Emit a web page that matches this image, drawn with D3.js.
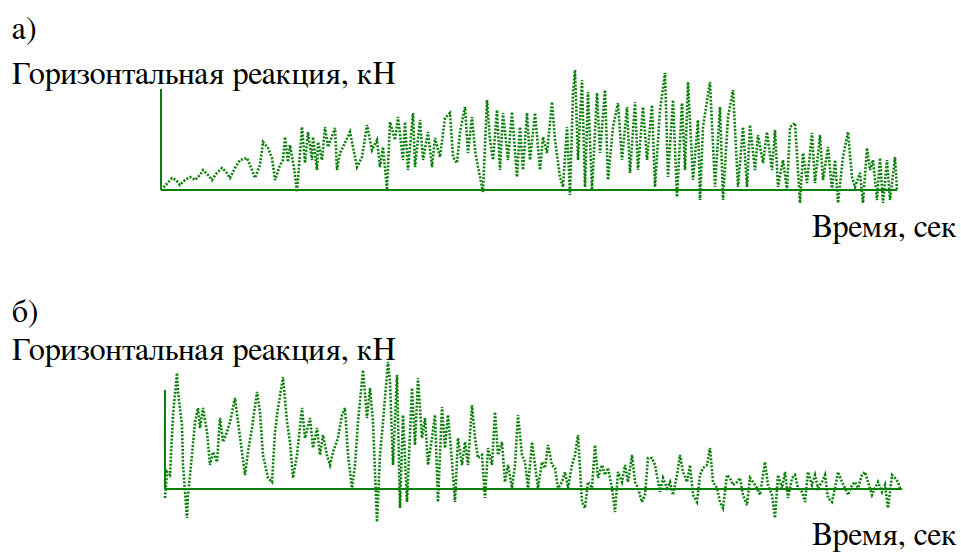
<!DOCTYPE html>
<html>
<head>
<meta charset="utf-8">
<script src="https://d3js.org/d3.v7.min.js"></script>
</head>
<body style="margin:0">
<script>

// labels
var panelLabels = ["а)", "б)"];
var yTitle = "Горизонтальная реакция, кН";
var xTitle = "Время, сек";

// panel a) : time, sec / horizontal reaction, kN
var timeA = [0,0.04,0.11,0.15,0.19,0.24,0.29,0.34,0.39,0.42,0.47,0.51,0.55,0.61,0.65,0.69,0.74,0.79,0.86,0.91,
  0.94,0.99,1.02,1.07,1.11,1.14,1.19,1.22,1.24,1.27,1.29,1.33,1.36,1.41,1.44,1.47,1.51,1.52,1.56,1.57,
  1.61,1.64,1.67,1.74,1.76,1.79,1.82,1.89,1.92,1.96,2.01,2.06,2.11,2.16,2.19,2.22,2.26,2.29,2.34,2.37,
  2.42,2.44,2.47,2.52,2.54,2.59,2.62,2.67,2.71,2.74,2.79,2.84,2.89,2.92,2.96,2.99,3.04,3.07,3.11,3.14,
  3.17,3.22,3.26,3.29,3.32,3.36,3.39,3.42,3.47,3.51,3.56,3.59,3.62,3.66,3.69,3.74,3.79,3.82,3.86,3.91,
  3.94,3.99,4.02,4.06,4.09,4.12,4.14,4.17,4.21,4.24,4.27,4.31,4.36,4.39,4.44,4.47,4.52,4.57,4.61,4.66,
  4.69,4.74,4.77,4.82,4.86,4.91,4.94,4.99,5.04,5.07,5.12,5.16,5.21,5.24,5.27,5.32,5.37,5.39,5.42,5.49,
  5.54,5.59,5.62,5.67,5.72,5.77,5.82,5.86,5.89,5.94,5.97,6.02,6.06,6.11,6.14,6.17,6.22,6.26,6.29,6.34,
  6.39,6.42,6.46,6.51,6.54,6.59,6.62,6.67,6.71,6.74,6.77,6.82,6.87,6.91,6.94,6.99,7.02,7.06,7.09,7.12,
  7.16,7.19,7.22,7.26,7.29,7.34,7.36];
var forceA = [0,4,12,10,5,10,13,10,15,20,15,10,16,22,18,12,22,30,32,20,
  12,25,48,42,32,10,25,30,53,28,45,22,-2,63,27,58,30,53,20,48,
  30,63,43,62,20,37,43,58,43,23,33,65,40,50,23,43,0,68,50,73,
  30,68,20,77,23,70,30,58,23,52,33,72,77,33,27,58,83,37,73,40,
  23,-2,90,50,30,80,20,77,30,78,13,63,20,77,30,77,20,53,37,88,
  50,13,3,63,-5,97,120,30,110,3,98,0,97,37,100,10,63,87,30,83,
  17,88,20,83,30,85,3,80,117,13,90,-7,87,20,108,10,70,-10,63,108,
  3,83,-10,73,100,3,63,3,65,20,55,27,58,20,60,3,30,0,63,67,
  -13,37,7,57,7,55,10,43,0,30,-13,33,58,13,3,17,-13,42,20,30,
  -10,32,-13,30,-10,33,0];

// panel б) : time, sec / horizontal reaction, kN
var timeB = [0,0.02,0.05,0.08,0.12,0.13,0.17,0.18,0.22,0.23,0.27,0.30,0.33,0.35,0.38,0.42,0.45,0.48,0.52,0.55,
  0.58,0.62,0.65,0.70,0.73,0.77,0.80,0.83,0.87,0.92,0.95,0.98,1.03,1.07,1.10,1.13,1.18,1.22,1.25,1.28,
  1.32,1.37,1.40,1.45,1.48,1.52,1.55,1.58,1.62,1.65,1.68,1.73,1.77,1.80,1.83,1.87,1.90,1.93,1.98,2.02,
  2.05,2.08,2.12,2.15,2.18,2.23,2.25,2.28,2.32,2.35,2.38,2.42,2.47,2.50,2.53,2.57,2.60,2.63,2.67,2.70,
  2.73,2.77,2.80,2.83,2.87,2.90,2.93,2.97,3.00,3.03,3.07,3.10,3.13,3.17,3.20,3.23,3.27,3.30,3.33,3.37,
  3.40,3.43,3.47,3.50,3.53,3.57,3.60,3.63,3.67,3.70,3.73,3.77,3.80,3.83,3.87,3.90,3.93,3.97,4.00,4.03,
  4.07,4.10,4.13,4.17,4.20,4.23,4.27,4.30,4.33,4.37,4.40,4.43,4.47,4.50,4.53,4.57,4.60,4.63,4.67,4.70,
  4.73,4.77,4.80,4.83,4.87,4.90,4.95,4.98,5.02,5.05,5.08,5.12,5.15,5.18,5.22,5.25,5.28,5.32,5.35,5.38,
  5.42,5.45,5.48,5.52,5.55,5.58,5.62,5.65,5.68,5.72,5.75,5.78,5.82,5.85,5.88,5.92,5.95,6.00,6.03,6.07,
  6.10,6.13,6.17,6.20,6.23,6.27,6.30,6.33,6.37,6.40,6.43,6.47,6.50,6.53,6.57,6.60,6.63,6.67,6.70,6.73,
  6.77,6.80,6.83,6.87,6.90,6.93,6.97,7.00,7.03,7.07,7.10,7.13,7.17,7.20,7.23,7.27,7.30,7.33,7.35];
var forceB = [-9,17,14,74,116,97,64,24,-29,-6,34,67,81,61,81,57,24,37,27,71,
  47,57,67,91,67,37,14,37,61,97,77,34,11,7,57,81,112,67,47,11,
  34,81,51,71,41,61,34,54,34,24,37,51,74,81,34,1,24,67,119,71,
  101,67,-33,34,67,127,107,24,114,-19,74,-13,101,44,111,51,71,24,51,74,
  -13,82,41,74,27,-13,51,24,47,24,84,51,31,34,-9,41,24,77,34,47,
  7,24,1,24,74,34,27,1,47,24,1,27,21,44,24,21,1,7,17,1,
  24,34,54,-13,-19,7,1,44,11,24,14,21,1,-23,17,7,24,7,34,7,
  1,-13,-6,31,31,24,-3,11,1,7,-6,14,34,17,7,24,-6,-13,14,21,
  24,41,7,1,-13,-19,14,11,4,7,11,-6,-16,11,7,1,-6,27,4,-6,
  -29,14,1,17,-9,11,14,1,-3,-13,17,4,14,1,7,14,-9,-13,1,17,
  7,1,-6,4,7,1,14,17,7,-6,1,7,-3,4,-19,14,11,7,1];

var green = "#0a800a";
var font = "FreeSerif";

var svg = d3.select("body")
  .append("svg")
    .attr("width", 961)
    .attr("height", 552);

// one panel = its own scales, two axis lines, the trace and the texts
var panels = [
  {label: panelLabels[0], time: timeA, force: forceA,
   xd: [0, 7.36], xr: [161, 897], yd: [0, 101], yr: [190, 89],
   labelY: 39, titleY: 84, xTitleY: 237},
  {label: panelLabels[1], time: timeB, force: forceB,
   xd: [0, 7.37], xr: [165, 902], yd: [0, 99], yr: [489, 390],
   labelY: 322, titleY: 360, xTitleY: 545}
];

panels.forEach(function(p) {
  var x = d3.scaleLinear().domain(p.xd).range(p.xr);
  var y = d3.scaleLinear().domain(p.yd).range(p.yr);

  // axes (plain lines, no ticks)
  svg.append("line")
    .attr("x1", x(0)).attr("x2", x(0))
    .attr("y1", y(p.yd[1])).attr("y2", y(0))
    .attr("stroke", green).attr("stroke-width", 2);
  svg.append("line")
    .attr("x1", x(0)).attr("x2", x(p.xd[1]))
    .attr("y1", y(0)).attr("y2", y(0))
    .attr("stroke", green).attr("stroke-width", 2);

  var pts = p.time.map(function(t, i) { return [t, p.force[i]]; });

  var line = d3.line()
    .x(function(d) { return x(d[0]); })
    .y(function(d) { return y(d[1]); });

  svg.append("path")
    .datum(pts)
    .attr("d", line)
    .attr("fill", "none")
    .attr("stroke", green)
    .attr("stroke-width", 2.6)
    .attr("stroke-dasharray", "2,1.6");

  svg.append("text")
    .attr("x", 12).attr("y", p.labelY)
    .attr("font-family", font)
    .attr("font-size", 32)
    .text(p.label);
  svg.append("text")
    .attr("x", 12).attr("y", p.titleY)
    .attr("font-family", font)
    .attr("font-size", 32)
    .text(yTitle);
  svg.append("text")
    .attr("x", 957).attr("y", p.xTitleY)
    .attr("text-anchor", "end")
    .attr("font-family", font)
    .attr("font-size", 32)
    .text(xTitle);
});

</script>
</body>
</html>
